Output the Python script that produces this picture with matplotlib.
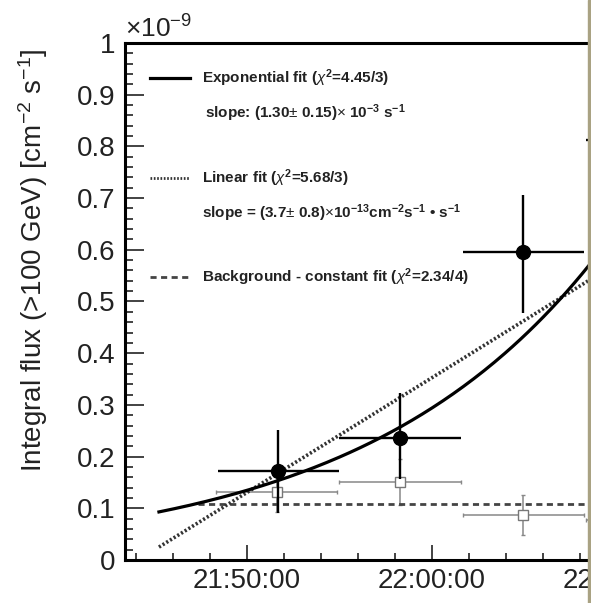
"""Integral flux light curve (>100 GeV) with exponential / linear / constant fits."""

import numpy as np
import matplotlib
matplotlib.use("Agg")
import matplotlib.pyplot as plt
from matplotlib.ticker import MultipleLocator, FuncFormatter
from matplotlib.patches import Rectangle

plt.rcParams["font.family"] = ["Liberation Sans", "DejaVu Sans"]
plt.rcParams["mathtext.fontset"] = "custom"
plt.rcParams["mathtext.rm"] = "Liberation Sans"
plt.rcParams["mathtext.it"] = "Liberation Sans:italic"
plt.rcParams["mathtext.bf"] = "Liberation Sans:bold"

# time in minutes after 21:00:00, flux in units of 1e-9 cm^-2 s^-1
sig_t = [51.68, 58.27, 64.92, 71.60]
sig_terr = [3.27, 3.30, 3.27, 3.30]
sig_flux = [0.172, 0.236, 0.596, 0.812]
sig_err_lo = [0.081, 0.080, 0.118, 0.100]
sig_err_hi = [0.079, 0.087, 0.110, 0.100]

bkg_t = [51.62, 58.27, 64.92, 71.60]
bkg_terr = [3.27, 3.30, 3.27, 3.30]
bkg_flux = [0.132, 0.151, 0.087, 0.077]
bkg_err = [0.040, 0.045, 0.039, 0.040]

# fit results
fit_t0, fit_t1 = 45.24, 73.0
exp_norm = 0.093           # value at fit_t0
exp_slope = 1.30e-3 * 60   # per minute
lin_norm = 0.025           # value at fit_t0
lin_slope = 3.7e-13 * 60 / 1e-9
bkg_level = 0.108
bkg_t0 = 47.35


def hms(m, pos=None):
    m = int(round(m))
    return f"{21 + m // 60}:{m % 60:02d}:00"


fig = plt.figure(figsize=(5.91, 6.03), dpi=100)
ax = fig.add_axes([125 / 591, 43 / 603, 515 / 591, 517 / 603])

t = np.linspace(fit_t0, fit_t1, 200)
ax.plot(t, exp_norm * np.exp(exp_slope * (t - fit_t0)), color="black", lw=2.3, zorder=4)
ax.plot(t, lin_norm + lin_slope * (t - fit_t0), color="#333333", lw=2.6,
        linestyle=(0, (0.6, 0.6)), zorder=3)
ax.plot([bkg_t0, fit_t1], [bkg_level, bkg_level], color="#444444", lw=2.0,
        linestyle=(0, (2.2, 1.6)), zorder=2)

ax.errorbar(bkg_t, bkg_flux, xerr=bkg_terr, yerr=bkg_err, fmt="s", ms=7,
            mfc="white", mec="#777777", mew=1.0, ecolor="#888888", elinewidth=1.1,
            capsize=1.5, zorder=1)
ax.errorbar(sig_t, sig_flux, xerr=sig_terr, yerr=[sig_err_lo, sig_err_hi], fmt="o",
            ms=10, color="black", elinewidth=1.7, capsize=0, zorder=5)

ax.set_xlim(43.405, 71.24)
ax.set_ylim(0, 1)
ax.xaxis.set_major_locator(MultipleLocator(10))
ax.xaxis.set_minor_locator(MultipleLocator(2))
ax.xaxis.set_major_formatter(FuncFormatter(hms))
ax.yaxis.set_major_locator(MultipleLocator(0.1))
ax.yaxis.set_minor_locator(MultipleLocator(0.02))
ax.yaxis.set_major_formatter(FuncFormatter(lambda v, p: f"{v:g}"))

for s in ax.spines.values():
    s.set_linewidth(2.2)
ax.spines["right"].set_visible(False)
ax.tick_params(which="both", direction="in", labelsize=20, width=1.2, colors="#222222")
ax.tick_params(axis="y", which="major", length=14, pad=7)
ax.tick_params(axis="y", which="minor", length=6)
ax.tick_params(axis="x", which="major", length=11, pad=6)
ax.tick_params(axis="x", which="minor", length=5)

ax.text(0.0, 1.0, r"$\times$10$^{-9}$", transform=ax.transAxes, fontsize=19,
        ha="left", va="bottom", color="#222222")
fig.text(33 / 591, 1 - 260 / 603, r"Integral flux (>100 GeV) [cm$^{-2}$ s$^{-1}$]",
         rotation=90, ha="center", va="center", fontsize=20, color="#222222")

# hand-drawn ROOT style legend
tr = ax.transAxes
ax.plot([0.0485, 0.126], [0.932, 0.932], transform=tr, color="black", lw=2.3)
ax.plot([0.0485, 0.126], [0.739, 0.739], transform=tr, color="#333333", lw=2.0,
        linestyle=(0, (0.6, 0.6)))
ax.plot([0.0485, 0.126], [0.547, 0.547], transform=tr, color="#444444", lw=2.0,
        linestyle=(0, (2.2, 1.6)))
kw = dict(transform=tr, fontsize=11, fontweight="bold", va="center", ha="left",
          color="#222222")
ax.text(0.1495, 0.932, r"Exponential fit ($\chi^{\mathbf{2}}$=4.45/3)", **kw)
ax.text(0.155, 0.865, r"slope: (1.30$\pm$ 0.15)$\times$ 10$^{\mathbf{-3}}$ s$^{\mathbf{-1}}$", **kw)
ax.text(0.1495, 0.739, r"Linear fit ($\chi^{\mathbf{2}}$=5.68/3)", **kw)
ax.text(0.1495, 0.671,
        r"slope = (3.7$\pm$ 0.8)$\times$10$^{\mathbf{-13}}$cm$^{\mathbf{-2}}$s$^{\mathbf{-1}}$ • s$^{\mathbf{-1}}$",
        **kw)
ax.text(0.1495, 0.547, r"Background - constant fit ($\chi^{\mathbf{2}}$=2.34/4)", **kw)

fig.add_artist(Rectangle((588 / 591, 0), 3 / 591, 1, transform=fig.transFigure,
                         color="#a9a283", zorder=10))

fig.savefig("out.png", dpi=100)
